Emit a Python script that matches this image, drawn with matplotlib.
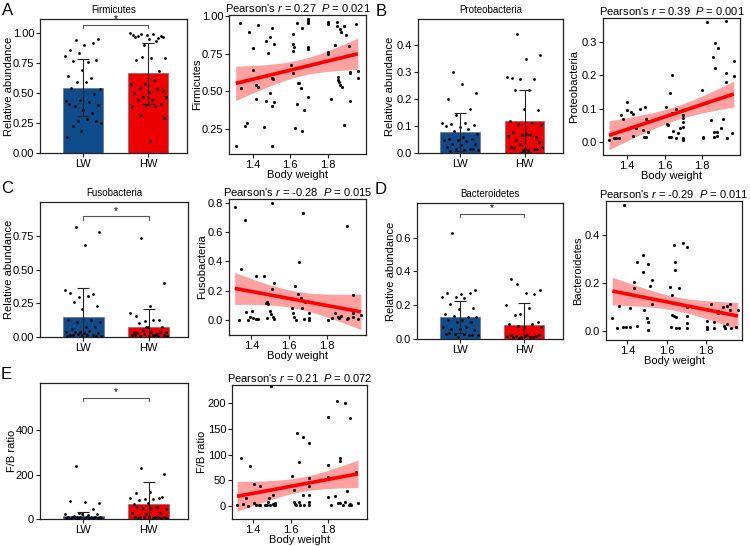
import numpy as np
import matplotlib
matplotlib.use('Agg')
import matplotlib.pyplot as plt

plt.rcParams['font.family'] = ['Liberation Sans', 'DejaVu Sans']
plt.rcParams['mathtext.fontset'] = 'custom'
plt.rcParams['mathtext.it'] = 'Liberation Sans:italic'
plt.rcParams['mathtext.rm'] = 'Liberation Sans'

groups = ['LW', 'HW']
bar_colors = ['#0F4C8C', '#EC0000']

# ---------------- Firmicutes ----------------
fir_lw = [0.94, 0.95, 0.90, 0.86, 0.92, 0.835, 0.81, 0.76, 0.77, 0.775,
          0.69, 0.64, 0.625, 0.59, 0.53, 0.59, 0.54, 0.49, 0.44, 0.435,
          0.425, 0.39, 0.40, 0.355, 0.41, 0.33, 0.27, 0.25, 0.285, 0.225,
          0.265, 0.18, 0.135]
fir_hw = [0.99, 0.97, 0.95, 0.97, 0.96, 0.90, 0.997, 0.99, 0.975, 0.975,
          0.98, 0.98, 0.93, 0.80, 0.79, 0.795, 0.775, 0.68, 0.575, 0.575,
          0.61, 0.545, 0.52, 0.51, 0.50, 0.53, 0.47, 0.47, 0.445, 0.44,
          0.41, 0.40, 0.39, 0.39, 0.32, 0.295, 0.10]
fir_mean = [0.545, 0.665]
fir_sd = [0.235, 0.255]
fir_bw = [1.307, 1.328, 1.337, 1.359, 1.368, 1.378, 1.400, 1.400, 1.418, 1.418,
          1.428, 1.425, 1.459, 1.472, 1.472, 1.480, 1.493, 1.502, 1.490, 1.502,
          1.505, 1.502, 1.510, 1.502, 1.510, 1.603, 1.612, 1.612, 1.620, 1.612,
          1.612, 1.625, 1.635, 1.635, 1.642, 1.648, 1.655, 1.664, 1.664, 1.675,
          1.696, 1.696, 1.696, 1.696, 1.696, 1.696, 1.800, 1.800, 1.800, 1.800,
          1.818, 1.840, 1.850, 1.850, 1.854, 1.858, 1.861, 1.864, 1.868, 1.870,
          1.879, 1.890, 1.890, 1.899, 1.917, 1.920, 1.920, 1.920, 1.951, 1.962,
          1.962]
fir_val = [0.14, 0.95, 0.52, 0.27, 0.29, 0.89, 0.785, 0.64, 0.45, 0.54,
           0.94, 0.53, 0.265, 0.83, 0.44, 0.755, 0.86, 0.92, 0.49, 0.59,
           0.58, 0.405, 0.43, 0.14, 0.81, 0.675, 0.88, 0.81, 0.795, 0.77,
           0.62, 0.26, 0.95, 0.42, 0.555, 0.555, 0.52, 0.92, 0.24, 0.38,
           0.98, 0.967, 0.95, 0.795, 0.78, 0.466, 0.96, 0.945, 0.758, 0.745,
           0.45, 0.805, 0.96, 0.93, 0.594, 0.576, 0.56, 0.545, 0.91, 0.89,
           0.53, 0.277, 0.93, 0.87, 0.80, 0.63, 0.62, 0.44, 0.943, 0.635,
           0.59]
fir_stats = ['0.27', '0.021']

# ---------------- Proteobacteria ----------------
pro_lw = [0.30, 0.222, 0.257, 0.20, 0.163, 0.14, 0.113, 0.11, 0.107, 0.103,
          0.097, 0.10, 0.088, 0.082, 0.072, 0.059, 0.053, 0.053, 0.05, 0.047,
          0.045, 0.035, 0.035, 0.028, 0.022, 0.016, 0.016, 0.012, 0.01, 0.007,
          0.016]
pro_hw = [0.44, 0.363, 0.348, 0.28, 0.276, 0.276, 0.282, 0.233, 0.233, 0.161,
          0.165, 0.119, 0.111, 0.109, 0.103, 0.072, 0.078, 0.059, 0.066, 0.063,
          0.066, 0.05, 0.041, 0.014, 0.022, 0.016, 0.035, 0.022, 0.012, 0.02,
          0.016, 0.01]
pro_mean = [0.077, 0.119]
pro_sd = [0.071, 0.116]
pro_bw = [1.302, 1.329, 1.338, 1.355, 1.368, 1.377, 1.400, 1.400, 1.418, 1.430,
          1.430, 1.421, 1.445, 1.470, 1.484, 1.493, 1.490, 1.502, 1.502, 1.505,
          1.511, 1.609, 1.614, 1.618, 1.627, 1.621, 1.632, 1.639, 1.639, 1.645,
          1.659, 1.661, 1.671, 1.680, 1.698, 1.698, 1.700, 1.700, 1.700, 1.700,
          1.802, 1.805, 1.805, 1.829, 1.850, 1.859, 1.864, 1.868, 1.870, 1.864,
          1.886, 1.880, 1.882, 1.904, 1.913, 1.930, 1.930, 1.930, 1.934, 1.963,
          1.971, 1.971]
pro_val = [0.005, 0.01, 0.012, 0.012, 0.08, 0.07, 0.12, 0.096, 0.09, 0.083,
           0.018, 0.045, 0.04, 0.099, 0.035, 0.104, 0.015, 0.015, 0.07, 0.063,
           0.03, 0.104, 0.053, 0.05, 0.146, 0.015, 0.015, 0.20, 0.086, 0.032,
           0.098, 0.01, 0.025, 0.04, 0.08, 0.072, 0.058, 0.045, 0.01, 0.005,
           0.156, 0.015, 0.01, 0.36, 0.065, 0.255, 0.015, 0.297, 0.222, 0.03,
           0.282, 0.017, 0.03, 0.04, 0.07, 0.363, 0.206, 0.181, 0.01, 0.025,
           0.242, 0.198]
pro_stats = ['0.39', '0.001']

# ---------------- Fusobacteria ----------------
fus_lw = [0.815, 0.775, 0.683, 0.328, 0.32, 0.298, 0.348, 0.303, 0.26, 0.228,
          0.209, 0.124, 0.129, 0.112, 0.112, 0.075, 0.062, 0.075, 0.037, 0.037,
          0.045, 0.037, 0.03, 0.03, 0.012, 0.012, 0.02, 0.005, 0.012, 0.012,
          0.005, 0.012, 0.007]
fus_hw = [0.733, 0.402, 0.231, 0.154, 0.124, 0.117, 0.179, 0.129, 0.104, 0.075,
          0.075, 0.037, 0.025, 0.05, 0.037, 0.037, 0.03, 0.037, 0.075, 0.012,
          0.012, 0.007, 0.012, 0.007, 0.012, 0.007, 0.02, 0.005, 0.012]
fus_mean = [0.149, 0.072]
fus_sd = [0.211, 0.137]
fus_bw = [1.312, 1.335, 1.343, 1.365, 1.373, 1.382, 1.395, 1.405, 1.409, 1.423,
          1.426, 1.435, 1.467, 1.476, 1.483, 1.490, 1.480, 1.497, 1.502, 1.506,
          1.509, 1.515, 1.518, 1.520, 1.612, 1.620, 1.624, 1.629, 1.635, 1.643,
          1.652, 1.660, 1.667, 1.673, 1.677, 1.683, 1.705, 1.705, 1.705, 1.806,
          1.823, 1.841, 1.855, 1.862, 1.873, 1.903, 1.903, 1.911, 1.934, 1.938,
          1.938, 1.964, 1.977]
fus_val = [0.773, 0.0, 0.345, 0.68, 0.052, 0.0, 0.023, 0.061, 0.016, 0.30,
           0.005, 0.005, 0.302, 0.114, 0.12, 0.107, 0.011, 0.061, 0.039, 0.209,
           0.80, 0.023, 0.255, 0.005, 0.08, 0.045, 0.023, 0.232, 0.0, 0.175,
           0.398, 0.148, 0.08, 0.732, 0.005, 0.125, 0.05, 0.016, 0.0, 0.0,
           0.016, 0.045, 0.023, 0.016, 0.03, 0.005, 0.643, 0.016, 0.17, 0.045,
           0.023, 0.005, 0.034]
fus_stats = ['-0.28', '0.015']

# ---------------- Bacteroidetes ----------------
bac_lw = [0.628, 0.292, 0.268, 0.274, 0.274, 0.249, 0.249, 0.245, 0.205, 0.186,
          0.18, 0.15, 0.13, 0.134, 0.13, 0.11, 0.11, 0.10, 0.10, 0.071,
          0.071, 0.061, 0.055, 0.061, 0.028, 0.022, 0.032, 0.022, 0.028, 0.036,
          0.022, 0.012]
bac_hw = [0.328, 0.288, 0.274, 0.353, 0.268, 0.15, 0.2, 0.186, 0.14, 0.10,
          0.071, 0.087, 0.087, 0.077, 0.071, 0.022, 0.012, 0.016, 0.012, 0.016,
          0.012, 0.016, 0.022, 0.016, 0.022, 0.012, 0.008]
bac_mean = [0.13, 0.085]
bac_sd = [0.096, 0.13]
bac_bw = [1.323, 1.346, 1.357, 1.376, 1.385, 1.393, 1.414, 1.414, 1.434, 1.434,
          1.448, 1.448, 1.477, 1.482, 1.485, 1.499, 1.504, 1.507, 1.507, 1.516,
          1.516, 1.524, 1.524, 1.618, 1.621, 1.626, 1.626, 1.635, 1.638, 1.643,
          1.643, 1.648, 1.648, 1.664, 1.665, 1.683, 1.703, 1.703, 1.703, 1.703,
          1.703, 1.805, 1.805, 1.805, 1.826, 1.843, 1.843, 1.860, 1.860, 1.865,
          1.885, 1.894, 1.899, 1.907, 1.907, 1.924, 1.924, 1.928, 1.955, 1.963]
bac_val = [0.051, 0.011, 0.102, 0.014, 0.522, 0.017, 0.093, 0.017, 0.203, 0.176,
           0.287, 0.021, 0.314, 0.245, 0.086, 0.051, 0.277, 0.037, 0.003, 0.185,
           0.138, 0.213, 0.109, 0.18, 0.017, 0.148, 0.065, 0.356, 0.061, 0.287,
           0.252, 0.055, 0.01, 0.179, 0.01, 0.365, 0.349, 0.1, 0.061, 0.033,
           0.01, 0.042, 0.017, 0.006, 0.109, 0.035, 0.01, 0.083, 0.072, 0.079,
           0.1, 0.021, 0.01, 0.102, 0.028, 0.109, 0.086, 0.01, 0.017, 0.086]
bac_stats = ['-0.29', '0.011']

# ---------------- F/B ratio ----------------
fb_lw = [238, 70, 78, 81, 45, 28, 22, 18, 13.5, 21,
         22, 10, 10, 7.5, 7.5, 7.5, 10, 7.5, 7.5, 3,
         3, 4.5, 3, 1.5, 2, 5, 1, 4]
fb_hw = [231, 202, 123, 115, 93, 88, 96, 88, 85, 97,
         70, 67, 55, 48, 43, 48, 55, 25, 22, 25,
         10, 10, 7.5, 7.5, 10, 7.5, 10, 6, 4.5, 3,
         4.5]
fb_mean = [13.5, 67.4]
fb_sd = [20.0, 98.0]
fb_bw = [1.315, 1.336, 1.347, 1.364, 1.373, 1.386, 1.404, 1.404, 1.416, 1.430,
         1.436, 1.439, 1.466, 1.475, 1.480, 1.487, 1.492, 1.498, 1.505, 1.505,
         1.510, 1.516, 1.519, 1.608, 1.617, 1.620, 1.625, 1.630, 1.635, 1.644,
         1.644, 1.652, 1.665, 1.665, 1.670, 1.697, 1.697, 1.697, 1.697, 1.697,
         1.697, 1.697, 1.800, 1.800, 1.800, 1.800, 1.800, 1.818, 1.839, 1.848,
         1.848, 1.853, 1.866, 1.866, 1.866, 1.878, 1.889, 1.889, 1.901, 1.914,
         1.919, 1.919, 1.924, 1.951, 1.960]
fb_val = [0.6, 93, 3.9, 15, 0, 78, 43, 5, 2, 0.6,
          38, 0.6, 0.6, 0.6, 8, 15, 2, 234, 21, 4,
          0.6, 5, 0.6, 58, 31, 8, 4, 0.6, 143, 86,
          8, 0.6, 134, 21, 0.6, 123, 54, 47, 39, 21,
          8, 0.6, 174, 80, 56, 53, 17, 2, 19, 205,
          56, 5, 93, 88, 5, 2, 201, 8, 28, 2,
          172, 4, 0.6, 66, 5]
fb_stats = ['0.21', '0.072']

FS = 8
W, H = 750.0, 546.0


def px_axes(fig, x0, x1, y0, y1, label_x):
    ax = fig.add_axes([x0 / W, 1 - y1 / H, (x1 - x0) / W, (y1 - y0) / H])
    ax._label_frac = (label_x - x0) / float(x1 - x0)
    return ax


def style(ax):
    for s in ax.spines.values():
        s.set_linewidth(0.9)
        s.set_color('#222222')
    ax.tick_params(labelsize=FS, length=3, width=0.8, pad=1.2, color='#222222')
    ax.yaxis.label.set_verticalalignment('center')
    ax.yaxis.set_label_coords(ax._label_frac, 0.5)


def bar_panel(ax, lw, hw, mean, sd, title, ylim, yticks, fmt, sig=None, ylabel='Relative abundance'):
    pos = [0, 1]
    width = 0.62
    ax.bar(pos, mean, width=width, color=bar_colors, edgecolor='#666666', linewidth=0.4, zorder=1)
    for p, vals in zip(pos, [lw, hw]):
        n = len(vals)
        off = ((np.arange(n) * 0.6180339 + 0.3) % 1.0 - 0.5) * width * 0.92
        ax.scatter(p + off, vals, s=4, color='black', linewidths=0, zorder=3)
    ax.errorbar(pos, mean, yerr=sd, fmt='none', ecolor='#222222', elinewidth=0.8,
                capsize=4.3, capthick=0.8, zorder=4)
    ax.set_xlim(-0.66, 1.6)
    ax.set_ylim(*ylim)
    ax.set_yticks(yticks)
    ax.set_yticklabels([fmt.format(v) for v in yticks])
    ax.set_xticks(pos)
    ax.set_xticklabels(groups)
    ax.set_ylabel(ylabel, fontsize=FS)
    ax.set_title(title, fontsize=7, pad=4)
    style(ax)
    if sig is not None:
        h = (ylim[1] - ylim[0]) * 0.025
        ax.plot([0, 0, 1, 1], [sig - h, sig, sig, sig - h], color='#555555', lw=0.8, zorder=5)
        ax.text(0.5, sig + h * 0.2, '*', ha='center', va='bottom', fontsize=7)


def scatter_panel(ax, x, y, ylabel, xlim, ylim, yticks, fmt, stats):
    x = np.asarray(x, float)
    y = np.asarray(y, float)
    n = len(x)
    b1, b0 = np.polyfit(x, y, 1)
    xs = np.linspace(x.min(), x.max(), 100)
    yh = b0 + b1 * xs
    res = y - (b0 + b1 * x)
    s = np.sqrt(np.sum(res ** 2) / (n - 2))
    sxx = np.sum((x - x.mean()) ** 2)
    se = s * np.sqrt(1.0 / n + (xs - x.mean()) ** 2 / sxx)
    t = 2.0
    ax.fill_between(xs, yh - t * se, yh + t * se, color='#FF3030', alpha=0.45, linewidth=0, zorder=1)
    ax.scatter(x, y, s=5, color='black', linewidths=0, zorder=2)
    ax.plot(xs, yh, color='#FF0000', lw=2.6, zorder=3, solid_capstyle='butt')
    ax.set_xlim(*xlim)
    ax.set_ylim(*ylim)
    ax.set_xticks([1.4, 1.6, 1.8])
    ax.set_xticklabels(['1.4', '1.6', '1.8'])
    ax.set_yticks(yticks)
    ax.set_yticklabels([fmt.format(v) for v in yticks])
    ax.set_xlabel('Body weight', fontsize=FS, labelpad=0)
    ax.set_ylabel(ylabel, fontsize=FS)
    ax.set_title("Pearson's $r$ = %s  $P$ = %s" % (stats[0], stats[1]), fontsize=FS, pad=2.5)
    style(ax)


fig = plt.figure(figsize=(7.5, 5.46), dpi=100)

# Row 1
ax = px_axes(fig, 40, 187, 19, 153, 9)
bar_panel(ax, fir_lw, fir_hw, fir_mean, fir_sd, 'Firmicutes', (0, 1.117),
          [0, 0.25, 0.5, 0.75, 1.0], '{:.2f}', sig=1.067)
ax = px_axes(fig, 229, 366, 15, 154, 197)
scatter_panel(ax, fir_bw, fir_val, 'Firmicutes', (1.271, 2.006), (0.088, 1.004),
              [0.25, 0.5, 0.75, 1.0], '{:.2f}', fir_stats)
ax = px_axes(fig, 418, 563, 19, 153, 390)
bar_panel(ax, pro_lw, pro_hw, pro_mean, pro_sd, 'Proteobacteria', (0, 0.497),
          [0, 0.1, 0.2, 0.3, 0.4], '{:.1f}')
ax = px_axes(fig, 603, 740, 18, 155, 574)
scatter_panel(ax, pro_bw, pro_val, 'Proteobacteria', (1.27, 2.004), (-0.04, 0.373),
              [0, 0.1, 0.2, 0.3], '{:.1f}', pro_stats)

# Row 2
ax = px_axes(fig, 40, 188, 202, 337, 9)
bar_panel(ax, fus_lw, fus_hw, fus_mean, fus_sd, 'Fusobacteria', (0, 1.0),
          [0, 0.25, 0.5, 0.75], '{:.2f}', sig=0.894)
ax = px_axes(fig, 229, 366, 199, 335, 202)
scatter_panel(ax, fus_bw, fus_val, 'Fusobacteria', (1.282, 2.004), (-0.102, 0.825),
              [0, 0.2, 0.4, 0.6, 0.8], '{:.1f}', fus_stats)
ax = px_axes(fig, 417, 563, 203, 339, 391)
bar_panel(ax, bac_lw, bac_hw, bac_mean, bac_sd, 'Bacteroidetes', (0, 0.805),
          [0, 0.2, 0.4, 0.6], '{:.1f}', sig=0.742)
ax = px_axes(fig, 606, 742, 201, 340, 578)
scatter_panel(ax, bac_bw, bac_val, 'Bacteroidetes', (1.291, 1.984), (-0.039, 0.54),
              [0, 0.2, 0.4], '{:.1f}', bac_stats)

# Row 3
ax = px_axes(fig, 40, 188, 383, 519, 12)
bar_panel(ax, fb_lw, fb_hw, fb_mean, fb_sd, '', (0, 612),
          [0, 200, 400], '{:.0f}', sig=545, ylabel='F/B ratio')
ax = px_axes(fig, 232, 367, 385, 519, 202)
scatter_panel(ax, fb_bw, fb_val, 'F/B ratio', (1.288, 2.008), (-26, 236),
              [0, 50, 100, 150, 200], '{:.0f}', fb_stats)

# Panel letters
for letter, xp, yp in [('A', 2, 3), ('B', 376, 4), ('C', 1, 181), ('D', 375, 182), ('E', 1, 367)]:
    fig.text(xp / W, 1 - yp / H, letter, fontsize=12, ha='left', va='top')

fig.savefig('out.png', dpi=100)
